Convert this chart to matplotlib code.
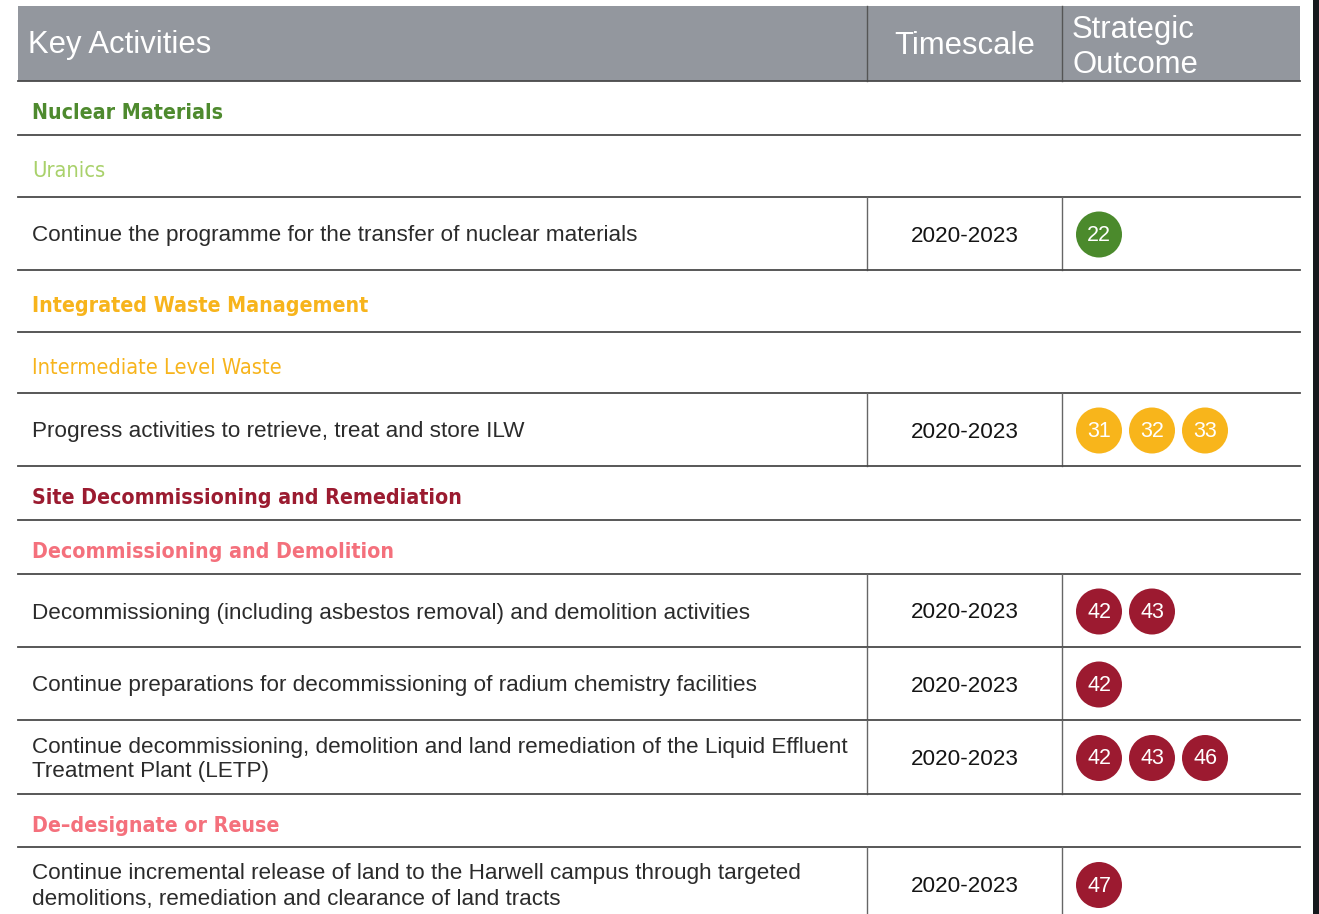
"""Key activities table (Harwell) rebuilt as a matplotlib figure."""
import matplotlib.pyplot as plt
from matplotlib.patches import Rectangle, Circle

W, H = 1319, 914

# ---- data -----------------------------------------------------------------
HEADERS = ["Key Activities", "Timescale", "Strategic\nOutcome"]

ROW_TEXT = [
    "Nuclear Materials",
    "Uranics",
    "Continue the programme for the transfer of nuclear materials",
    "Integrated Waste Management",
    "Intermediate Level Waste",
    "Progress activities to retrieve, treat and store ILW",
    "Site Decommissioning and Remediation",
    "Decommissioning and Demolition",
    "Decommissioning (including asbestos removal) and demolition activities",
    "Continue preparations for decommissioning of radium chemistry facilities",
    "Continue decommissioning, demolition and land remediation of the Liquid Effluent\n"
    "Treatment Plant (LETP)",
    "De\u2013designate or Reuse",
    "Continue incremental release of land to the Harwell campus through targeted\n"
    "demolitions, remediation and clearance of land tracts",
]
ROW_KIND = ["section", "sub", "act", "section", "sub", "act",
            "section", "section", "act", "act", "act", "section", "act"]
ROW_LIGHT = [False, True, False, False, True, False,
             False, False, False, False, False, False, False]
ROW_COLOR = ["#4e8a2e", "#a9d16b", None, "#f7b41c", "#f7b41c", None,
             "#9b1b30", "#f4707c", None, None, None, "#f4707c", None]
TIMESCALE = [None, None, "2020-2023", None, None, "2020-2023",
             None, None, "2020-2023", "2020-2023", "2020-2023", None, "2020-2023"]
OUTCOMES = [[], [], [22], [], [], [31, 32, 33],
            [], [], [42, 43], [42], [42, 43, 46], [], [47]]
OUTCOME_COLOR = ["#4b8a2c", "#4b8a2c", "#4b8a2c", "#f8b51b", "#f8b51b", "#f8b51b",
                 "#9c1a30", "#9c1a30", "#9c1a30", "#9c1a30", "#9c1a30", "#9c1a30",
                 "#9c1a30"]

# ---- layout (pixels) -------------------------------------------------------
LEFT, RIGHT = 18, 1300
COL1, COL2 = 867, 1062
HEAD_TOP, HEAD_BOT = 6, 81
ROW_EDGES = [81, 135, 197, 270, 332, 393, 466, 520, 574, 647, 720, 794, 847, 921]

BODY = ["Liberation Sans", "DejaVu Sans"]
NARROW = ["DejaVu Sans"]

fig = plt.figure(figsize=(W / 100, H / 100), dpi=100)
ax = fig.add_axes([0, 0, 1, 1])
ax.set_xlim(0, W)
ax.set_ylim(H, 0)
ax.axis("off")

# header
ax.add_patch(Rectangle((LEFT, HEAD_TOP), RIGHT - LEFT, HEAD_BOT - HEAD_TOP,
                       fc="#93979e", ec="none"))
for x in (COL1, COL2):
    ax.plot([x, x], [HEAD_TOP, HEAD_BOT], color="#555555", lw=1.0)
hy = (HEAD_TOP + HEAD_BOT) / 2
ax.text(28, hy + 2, HEADERS[0], color="white", fontsize=22.3, family=BODY,
        ha="left", va="center")
ax.text((COL1 + COL2) / 2, hy + 2, HEADERS[1], color="white", fontsize=22.3,
        family=BODY, ha="center", va="center")
ax.text(1072, hy + 4, HEADERS[2], color="white", fontsize=22.3, family=BODY,
        ha="left", va="center", linespacing=1.2)

# rows
for i, text in enumerate(ROW_TEXT):
    y0, y1 = ROW_EDGES[i], ROW_EDGES[i + 1]
    yc = (y0 + y1) / 2
    ax.plot([LEFT, RIGHT], [y0, y0], color="#4a4a4a", lw=1.3)
    if ROW_KIND[i] == "act":
        for x in (COL1, COL2):
            ax.plot([x, x], [y0, y1], color="#666666", lw=1.0)
        ax.text(32, yc + 2.5, text, color="#2b2b2b", fontsize=16.2, family=BODY,
                ha="left", va="center", linespacing=1.25)
        ax.text((COL1 + COL2) / 2 + 0.5, yc + 2.5, TIMESCALE[i], color="#141414",
                fontsize=16.2, family=BODY, ha="center", va="center")
        for k, num in enumerate(OUTCOMES[i]):
            cx = 1099 + 53 * k
            ax.add_patch(Circle((cx, yc + 1), 23, fc=OUTCOME_COLOR[i], ec="none"))
            ax.text(cx, yc + 2, str(num), color="white", fontsize=15.5,
                    family=BODY, ha="center", va="center")
    else:
        weight = "normal" if ROW_LIGHT[i] else "bold"
        size = 15.7 if ROW_LIGHT[i] else 15.3
        ax.text(32, yc + 5, text, color=ROW_COLOR[i], fontsize=size,
                family=NARROW, fontweight=weight, fontstretch="condensed",
                ha="left", va="center")

# dark edge strip of the source screenshot
ax.add_patch(Rectangle((1313, 0), W - 1313, H, fc="#16191d", ec="none"))

fig.savefig("out.png", dpi=100)
plt.close(fig)
